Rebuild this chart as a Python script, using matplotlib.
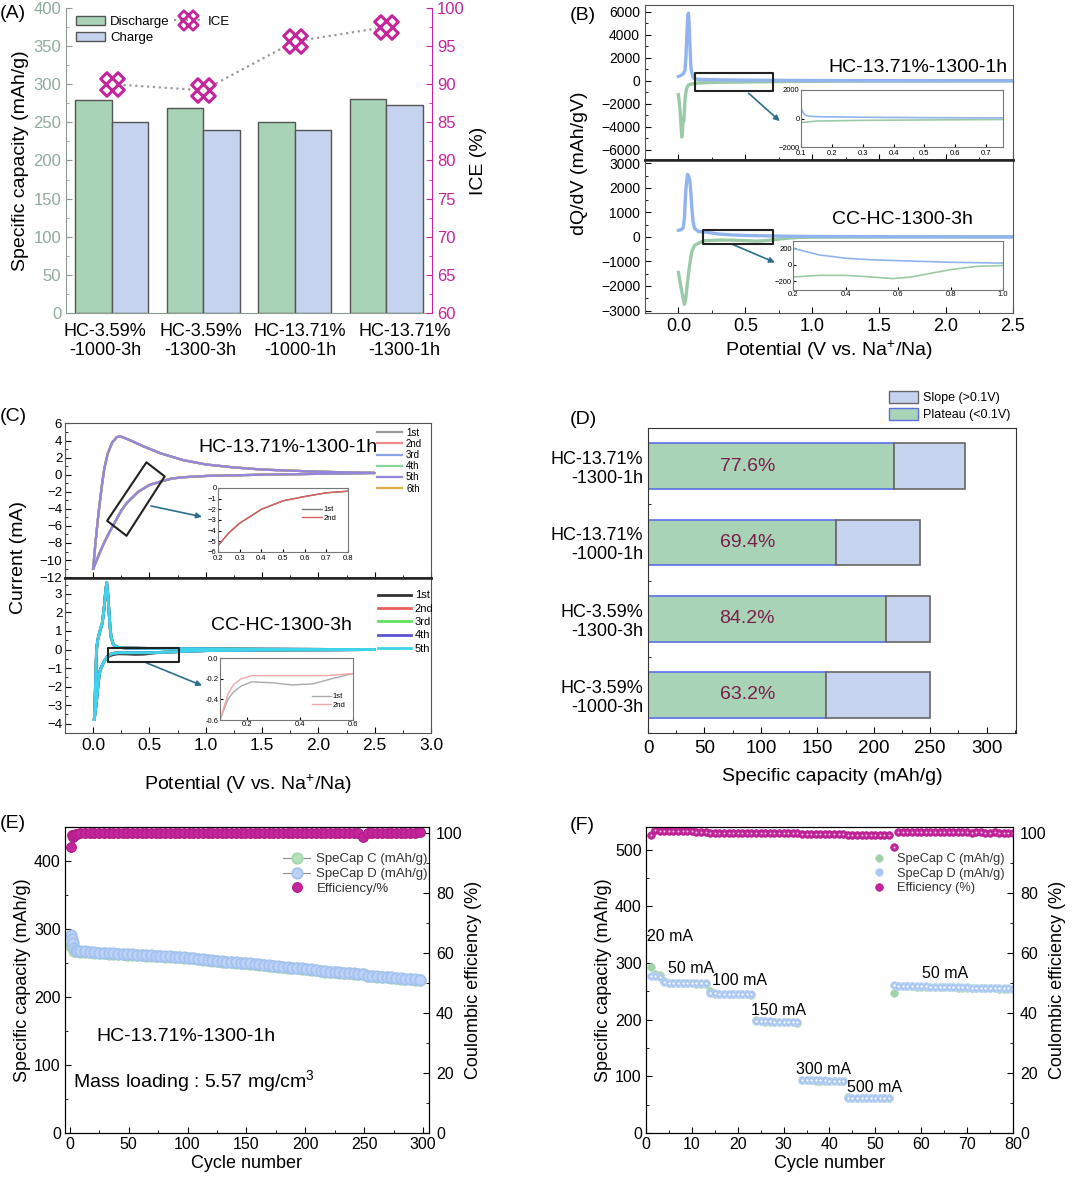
import matplotlib
matplotlib.use("Agg")
import matplotlib.pyplot as plt
import numpy as np
from matplotlib.path import Path
from matplotlib.patches import Patch, Polygon, Rectangle
from matplotlib.lines import Line2D
from matplotlib.ticker import MultipleLocator, FixedLocator

plt.rcParams['font.family'] = ['Liberation Sans', 'DejaVu Sans']
plt.rcParams['mathtext.default'] = 'regular'
plt.rcParams['xtick.direction'] = 'in'
plt.rcParams['ytick.direction'] = 'in'
plt.rcParams['xtick.major.size'] = 4
plt.rcParams['ytick.major.size'] = 4
plt.rcParams['xtick.minor.size'] = 2
plt.rcParams['ytick.minor.size'] = 2

# ---------------- (A) capacities and ICE
samples = ['HC-3.59%\n-1000-3h', 'HC-3.59%\n-1300-3h', 'HC-13.71%\n-1000-1h', 'HC-13.71%\n-1300-1h']
discharge = [279, 269, 251, 280]
charge = [251, 240, 240, 273]
ice = [90.0, 89.2, 95.6, 97.5]

# ---------------- (B) dQ/dV curves
b_hc_pos_v = [0.0, 0.024, 0.037, 0.049, 0.056, 0.063, 0.07, 0.075, 0.08, 0.087, 0.093, 0.1, 0.11, 0.12, 0.14,
              0.17, 0.3, 0.5, 0.75, 1.0, 1.5, 2.0, 2.5]
b_hc_pos = [380, 500, 630, 900, 2000, 4000, 5700, 5900, 5000, 2800, 1200, 700, 300, 180, 140,
            120, 90, 60, 40, 25, 10, 5, 0]
b_hc_neg_v = [0.0, 0.012, 0.02, 0.025, 0.03, 0.035, 0.04, 0.045, 0.05, 0.06, 0.075, 0.1, 0.15, 0.3, 0.5,
              0.75, 1.0, 1.5, 2.5]
b_hc_neg = [-1200, -2500, -4000, -4900, -4500, -3300, -3500, -2600, -1500, -700, -350, -280, -180, -130, -100,
            -70, -40, -15, 0]
b_cc_pos_v = [0.0, 0.024, 0.037, 0.045, 0.053, 0.06, 0.068, 0.075, 0.085, 0.093, 0.1, 0.11, 0.12, 0.15, 0.2,
              0.3, 0.4, 0.5, 0.6, 0.7, 0.8, 1.0, 1.5, 2.5]
b_cc_pos = [270, 300, 400, 800, 1700, 2200, 2550, 2500, 2300, 1800, 1200, 600, 350, 220, 200,
            120, 80, 60, 50, 40, 30, 20, 10, 0]
b_cc_neg_v = [0.0, 0.024, 0.045, 0.055, 0.073, 0.085, 0.1, 0.12, 0.17, 0.2, 0.3, 0.4, 0.5, 0.58, 0.65,
              0.7, 0.8, 0.9, 1.0, 1.5, 2.5]
b_cc_neg = [-1450, -2200, -2750, -2500, -1600, -1100, -600, -350, -200, -150, -130, -130, -150, -170, -150,
            -120, -60, -20, -10, 0, 0]

# ---------------- (C) CV curves
c_hc_an_v = [0.0, 0.02, 0.05, 0.08, 0.1, 0.13, 0.17, 0.21, 0.24, 0.28, 0.35, 0.45, 0.6, 0.8, 1.0, 1.25, 1.5,
             2.0, 2.5]
c_hc_an = [-11.0, -8.0, -4.2, -1.0, 0.8, 2.5, 3.8, 4.4, 4.5, 4.3, 3.9, 3.3, 2.5, 1.7, 1.2, 0.85, 0.6,
           0.35, 0.2]
c_hc_ca_v = [2.5, 2.0, 1.5, 1.0, 0.8, 0.7, 0.6, 0.5, 0.4, 0.3, 0.25, 0.2, 0.15, 0.1, 0.05, 0.02, 0.0]
c_hc_ca = [0.2, 0.1, 0.0, -0.15, -0.3, -0.45, -0.8, -1.2, -2.0, -3.3, -4.2, -5.4, -6.6, -7.9, -9.4, -10.4, -11.0]
cyc_hc = ['1st', '2nd', '3rd', '4th', '5th', '6th']
cyc_hc_col = ['#9a9a9a', '#f08a8a', '#8aa6e6', '#86d49a', '#9486dc', '#e0b048']

c_cc_an_v = [0.01, 0.015, 0.02, 0.025, 0.03, 0.04, 0.06, 0.08, 0.095, 0.11, 0.12, 0.13, 0.14, 0.15, 0.16,
             0.18, 0.22, 0.3, 0.5, 1.0, 1.5, 2.0, 2.5]
c_cc_an = [-3.75, -3.0, -2.0, -1.0, 0.0, 0.5, 1.0, 1.4, 2.1, 3.1, 3.6, 3.0, 2.1, 1.2, 0.65,
           0.25, 0.12, 0.08, 0.06, 0.04, 0.02, 0.01, 0.0]
c_cc_ca1_v = [2.5, 2.0, 1.5, 1.0, 0.6, 0.52, 0.45, 0.37, 0.3, 0.22, 0.18, 0.15, 0.13, 0.1, 0.08, 0.06,
              0.045, 0.033, 0.02, 0.01]
c_cc_ca1 = [0.0, -0.02, -0.03, -0.06, -0.15, -0.2, -0.25, -0.26, -0.24, -0.23, -0.27, -0.33, -0.4, -0.6,
            -0.85, -1.15, -1.8, -2.6, -3.3, -3.75]
c_cc_ca2_v = [2.5, 2.0, 1.5, 1.0, 0.6, 0.5, 0.4, 0.3, 0.22, 0.18, 0.15, 0.13, 0.1, 0.08, 0.06,
              0.045, 0.033, 0.02, 0.01]
c_cc_ca2 = [0.0, -0.02, -0.03, -0.06, -0.15, -0.17, -0.17, -0.17, -0.17, -0.2, -0.26, -0.35, -0.6,
            -0.85, -1.15, -1.8, -2.6, -3.3, -3.75]
cyc_cc = ['1st', '2nd', '3rd', '4th', '5th']
cyc_cc_col = ['#333333', '#e8625c', '#5fe05f', '#5a52d4', '#3fd4ea']

# ---------------- (D) plateau / slope
d_samples = ['HC-3.59%\n-1000-3h', 'HC-3.59%\n-1300-3h', 'HC-13.71%\n-1000-1h', 'HC-13.71%\n-1300-1h']
d_plateau = [158, 210.5, 167, 218]
d_total = [250, 250, 241, 281]
d_pct = ['63.2%', '84.2%', '69.4%', '77.6%']

# ---------------- (E) long cycling
e_cycles = [1, 2, 3, 4, 5, 6] + list(range(9, 298, 4))
e_discharge = [291, 285, 279, 272, 269, 268,
               267.5, 267.0, 266.5, 266.0, 265.5, 265.0, 264.6, 264.2, 263.8, 263.4,
               263.0, 262.7, 262.4, 262.0, 261.7, 261.3, 261.0, 260.6, 260.2, 259.8,
               259.4, 259.0, 258.6, 258.0, 257.3, 256.5, 255.8, 255.0, 254.0, 253.2,
               252.6, 252.0, 251.5, 251.0, 250.5, 250.0, 249.4, 248.7, 248.0, 247.3,
               246.6, 246.0, 245.3, 244.6, 244.0, 243.3, 242.7, 242.0, 241.4, 240.8,
               240.0, 238.5, 237.8, 237.3, 236.8, 236.3, 235.9, 235.5, 235.0, 234.6,
               234.0, 231.5, 231.0, 230.5, 230.0, 229.5, 229.0, 228.4, 227.8, 227.2,
               226.6, 226.0, 225.4]
e_charge = [275, 279, 272, 268, 267, 267.5,
            266.9, 266.4, 265.9, 265.5, 264.9, 264.4, 264.0, 263.6, 263.2, 262.8,
            262.4, 262.1, 261.8, 261.4, 261.1, 260.7, 260.4, 260.0, 259.6, 259.2,
            258.8, 258.4, 258.0, 257.4, 256.7, 255.9, 255.2, 254.4, 253.4, 252.6,
            252.0, 251.4, 250.9, 250.4, 249.9, 249.4, 248.8, 248.1, 247.4, 246.7,
            246.0, 245.4, 244.7, 244.0, 243.4, 242.7, 242.1, 241.4, 240.8, 240.2,
            239.4, 237.9, 237.2, 236.7, 236.2, 235.7, 235.3, 234.9, 234.4, 234.0,
            233.4, 230.9, 230.4, 229.9, 229.4, 228.9, 228.4, 227.8, 227.2, 226.6,
            226.0, 225.4, 224.8]
e_ce = [95.3, 99.4, 98.8, 99.5, 99.7, 99.8,
        99.9, 99.9, 100.0, 99.9, 100.0, 99.9, 99.9, 100.0, 99.9, 99.9,
        100.0, 99.9, 99.9, 100.0, 99.9, 99.9, 100.0, 99.9, 99.9, 100.0,
        99.9, 99.9, 100.0, 99.9, 99.9, 100.0, 99.9, 99.9, 100.0, 99.9,
        100.0, 99.9, 99.9, 100.0, 99.9, 99.9, 100.0, 99.9, 99.9, 100.0,
        99.9, 99.9, 100.0, 99.9, 99.9, 100.0, 99.9, 99.9, 100.0, 99.9,
        100.0, 99.9, 99.9, 100.0, 99.9, 99.9, 100.0, 99.9, 99.9, 100.0,
        98.8, 99.9, 100.0, 99.9, 99.9, 100.0, 99.9, 99.9, 100.0, 99.9,
        99.9, 100.0, 100.2]

# ---------------- (F) rate capability
f_cycles = list(range(1, 81))
f_discharge = [277, 277, 276,
               266, 265.5, 265, 265, 264.8, 264.6, 264.5, 264.3, 264.2, 264.0,
               247, 246.5, 246.2, 246, 245.8, 245.6, 245.5, 245.3, 245.2, 245.0,
               198, 197.6, 197.3, 197, 196.8, 196.6, 196.4, 196.2, 196.0, 195.5,
               93.5, 93.3, 93.1, 93, 92.9, 92.8, 92.7, 92.6, 92.5, 92.4,
               62.5, 62.3, 62.2, 62.1, 62, 61.9, 61.8, 61.7, 61.6, 61.5,
               261, 260, 259.8, 259.5, 259.3, 259.1, 258.9, 258.7, 258.5, 258.3, 258.1, 257.9, 257.7,
               257.5, 257.3, 257.1, 256.9, 256.7, 256.5, 256.3, 256.1, 255.9, 255.7, 255.5, 255.3,
               255.1, 254.9]
f_charge = [293, 281, 279,
            268, 265, 264.5, 264.5, 264.3, 264.1, 264.0, 263.8, 263.7, 263.5,
            250, 246, 245.7, 245.5, 245.3, 245.1, 245.0, 244.8, 244.7, 244.5,
            199, 197.1, 196.8, 196.5, 196.3, 196.1, 195.9, 195.7, 195.5, 195.0,
            94, 93.0, 92.8, 92.7, 92.6, 92.5, 92.4, 92.3, 92.2, 92.1,
            63, 62.0, 61.9, 61.8, 61.7, 61.6, 61.5, 61.4, 61.3, 61.2,
            248, 259.5, 259.3, 259.0, 258.8, 258.6, 258.4, 258.2, 258.0, 257.8, 257.6, 257.4, 257.2,
            257.0, 256.8, 256.6, 256.4, 256.2, 256.0, 255.8, 255.6, 255.4, 255.2, 255.0, 254.8,
            254.6, 254.4]
f_ce = [99.4, 101.0, 100.8,
        100.8, 100.7, 100.7, 100.6, 100.6, 100.6, 100.6, 100.5, 100.5, 100.5,
        100.0, 100.1, 100.0, 100.0, 100.0, 100.0, 100.0, 100.0, 100.0, 100.0,
        100.0, 100.1, 100.0, 100.0, 100.0, 100.0, 100.0, 100.0, 100.0, 100.0,
        99.7, 99.8, 99.7, 99.7, 99.7, 99.7, 99.7, 99.7, 99.7, 99.7,
        99.3, 99.3, 99.3, 99.3, 99.3, 99.3, 99.3, 99.3, 99.3, 99.2,
        95.4, 100.3, 100.3, 100.3, 100.2, 100.3, 100.3, 100.2, 100.2, 100.3, 100.2, 100.2, 100.2,
        100.2, 100.2, 100.2, 100.2, 100.1, 100.2, 100.2, 100.1, 100.1, 100.2, 100.1, 100.1,
        100.1, 100.1]
f_rates = ['20 mA', '50 mA', '100 mA', '150 mA', '300 mA', '500 mA', '50 mA']
f_rate_x = [0.2, 4.7, 14.5, 22.8, 32.7, 43.9, 60.1]
f_rate_y = [346, 290, 269, 217, 112, 81, 281]

GREEN = '#a9d3b7'
LBLUE = '#c6d3ee'
MAG = '#c4259b'
CBLUE = '#91b4ee'
CGREEN = '#9ccaa6'
ARROW = '#2b6f8c'

fig = plt.figure(figsize=(10.8, 11.81), dpi=100)


def inset_style(ax):
    ax.tick_params(labelsize=5.5, pad=1, length=2)
    for s in ax.spines.values():
        s.set_color('#777')


# ======================= (A)
axA = fig.add_axes([0.0611, 0.7350, 0.3389, 0.2583])
xa = np.arange(len(samples))
bD = axA.bar(xa - 0.2, discharge, 0.4, color=GREEN, edgecolor='#555', lw=1, label='Discharge')
bC = axA.bar(xa + 0.2, charge, 0.4, color=LBLUE, edgecolor='#555', lw=1, label='Charge')
axA.set_xlim(-0.5, 3.5)
axA.set_ylim(0, 400)
# labels are spread a little wider than the bar groups, as in the original
axA.set_xticks([-0.07, 0.97, 2.06, 3.2])
axA.set_xticklabels(samples, fontsize=13, linespacing=1.15)
axA.tick_params(axis='x', length=0, pad=7)
axA.yaxis.set_major_locator(MultipleLocator(50))
axA.yaxis.set_minor_locator(MultipleLocator(25))
axA.tick_params(axis='y', which='both', color='#8a9a90', labelcolor='#8fab9c', labelsize=12)
axA.spines['top'].set_visible(False)
axA.spines['right'].set_visible(False)
axA.spines['left'].set_color('#8a9a90')
axA.spines['bottom'].set_color('#8a9a90')
axA.set_ylabel('Specific capacity (mAh/g)', fontsize=14, labelpad=3)

a = 0.36
ice_marker = Path([(-a, -1), (a, -1), (a, 1), (-a, 1), (-a, -1),
                   (-1, -a), (1, -a), (1, a), (-1, a), (-1, -a)],
                  [Path.MOVETO] + [Path.LINETO] * 3 + [Path.CLOSEPOLY] +
                  [Path.MOVETO] + [Path.LINETO] * 3 + [Path.CLOSEPOLY]
                  ).transformed(matplotlib.transforms.Affine2D().rotate_deg(45))
axA2 = axA.twinx()
axA2.set_ylim(60, 100)
axA2.plot(xa, ice, ls=':', color='#9a9a9a', lw=1.6, zorder=2)
axA2.plot(xa, ice, ls='none', marker='o', ms=15, mfc='white', mec='none', zorder=3)
axA2.plot(xa, ice, ls='none', marker=ice_marker, ms=17, mfc='none', mec=MAG, mew=2.2, zorder=4)
axA2.yaxis.set_major_locator(MultipleLocator(5))
axA2.yaxis.set_minor_locator(MultipleLocator(2.5))
axA2.tick_params(axis='y', which='both', color=MAG, labelcolor=MAG, labelsize=12)
for s in ['top', 'left', 'bottom']:
    axA2.spines[s].set_visible(False)
axA2.spines['right'].set_color(MAG)
axA2.set_ylabel('ICE (%)', fontsize=14, labelpad=4)
h_ice = Line2D([], [], ls=':', color='#9a9a9a', lw=1.6, marker=ice_marker, ms=14, mfc='none', mec=MAG, mew=2.0)
h_blank = Line2D([], [], alpha=0)
axA2.legend([bD, bC, h_ice, h_blank], ['Discharge', 'Charge', 'ICE', ''], ncol=2, frameon=False,
            loc='upper left', bbox_to_anchor=(0.005, 1.0), fontsize=9.5, handlelength=2.2,
            columnspacing=0.3, handletextpad=0.4, labelspacing=0.3, borderaxespad=0.2)
fig.text(0.0, 1 - 14 / 1181, '(A)', fontsize=14, va='center')

# ======================= (B)
axBt = fig.add_axes([0.5972, 0.8645, 0.3407, 0.1312])
axBb = fig.add_axes([0.5972, 0.7350, 0.3407, 0.1296])
for ax in (axBt, axBb):
    ax.set_xlim(-0.25, 2.5)
    ax.xaxis.set_major_locator(MultipleLocator(0.5))
    ax.xaxis.set_minor_locator(MultipleLocator(0.25))
    ax.tick_params(axis='y', labelsize=10)
    ax.tick_params(axis='x', labelsize=13)
    for s in ax.spines.values():
        s.set_color('#555')
axBt.plot(b_hc_neg_v, b_hc_neg, color=CGREEN, lw=2.4)
axBt.plot(b_hc_pos_v, b_hc_pos, color=CBLUE, lw=2.4)
axBt.set_ylim(-6900, 6600)
axBt.yaxis.set_major_locator(MultipleLocator(2000))
axBt.yaxis.set_minor_locator(MultipleLocator(1000))
axBt.tick_params(axis='x', labelbottom=False)
axBt.spines['bottom'].set_linewidth(1.8)
axBt.spines['bottom'].set_color('#222')
axBt.text(0.986, 0.6, 'HC-13.71%-1300-1h', transform=axBt.transAxes, ha='right', va='center', fontsize=14)
axBt.add_patch(Rectangle((0.125, -925), 0.585, 1636, fill=False, ec='#222', lw=1.5, joinstyle='round', zorder=5))
axBt.annotate('', xy=(0.773, -3670), xytext=(0.51, -925),
              arrowprops=dict(arrowstyle='-|>', color=ARROW, lw=1.2, mutation_scale=8))

axBb.plot(b_cc_neg_v, b_cc_neg, color=CGREEN, lw=2.4)
axBb.plot(b_cc_pos_v, b_cc_pos, color=CBLUE, lw=2.4)
axBb.set_ylim(-3100, 3140)
axBb.yaxis.set_major_locator(MultipleLocator(1000))
axBb.yaxis.set_minor_locator(MultipleLocator(500))
axBb.spines['top'].set_linewidth(1.8)
axBb.spines['top'].set_color('#222')
axBb.text(0.891, 0.608, 'CC-HC-1300-3h', transform=axBb.transAxes, ha='right', va='center', fontsize=14)
axBb.add_patch(Rectangle((0.18, -271), 0.53, 571, fill=False, ec='#222', lw=1.5, joinstyle='round', zorder=5))
axBb.annotate('', xy=(0.74, -1085), xytext=(0.39, -271),
              arrowprops=dict(arrowstyle='-|>', color=ARROW, lw=1.2, mutation_scale=8))
axBb.set_xlabel('Potential (V vs. Na$^{+}$/Na)', fontsize=14, labelpad=3)
fig.text(0.537, 1 - 163 / 1181, 'dQ/dV (mAh/gV)', rotation=90, fontsize=14, ha='center', va='center')
fig.text(570 / 1080, 1 - 15 / 1181, '(B)', fontsize=14, va='center')

axBi1 = fig.add_axes([0.7417, 0.8755, 0.187, 0.0483])
axBi1.plot(b_hc_neg_v, b_hc_neg, color=CGREEN, lw=1.2)
axBi1.plot(b_hc_pos_v, b_hc_pos, color=CBLUE, lw=1.2)
axBi1.set_xlim(0.1, 0.755)
axBi1.set_ylim(-2000, 2000)
axBi1.set_xticks([0.1, 0.2, 0.3, 0.4, 0.5, 0.6, 0.7])
axBi1.set_yticks([-2000, 0, 2000])
inset_style(axBi1)
axBi1.tick_params(axis='x', pad=2)

axBi2 = fig.add_axes([0.7343, 0.7544, 0.1944, 0.0415])
axBi2.plot(b_cc_neg_v, b_cc_neg, color=CGREEN, lw=1.2)
axBi2.plot(b_cc_pos_v, b_cc_pos, color=CBLUE, lw=1.2)
axBi2.set_xlim(0.2, 1.0)
axBi2.set_ylim(-310, 290)
axBi2.set_xticks([0.2, 0.4, 0.6, 0.8, 1.0])
axBi2.set_yticks([-200, 0, 200])
inset_style(axBi2)

# ======================= (C)
axCt = fig.add_axes([0.0602, 0.5106, 0.3389, 0.1312])
axCb = fig.add_axes([0.0602, 0.3793, 0.3389, 0.1312])
for ax in (axCt, axCb):
    ax.set_xlim(-0.25, 3.0)
    ax.xaxis.set_major_locator(MultipleLocator(0.5))
    ax.xaxis.set_minor_locator(MultipleLocator(0.25))
    ax.tick_params(axis='y', labelsize=9.5, pad=2)
    ax.tick_params(axis='x', labelsize=12.5)
    for s in ax.spines.values():
        s.set_color('#555')

order = [0, 1, 2, 3, 5, 4]
handles = {}
for i in order:
    ln, = axCt.plot(c_hc_an_v + c_hc_ca_v, c_hc_an + c_hc_ca, color=cyc_hc_col[i], lw=1.6)
    handles[i] = ln
axCt.set_ylim(-12.1, 6.05)
axCt.yaxis.set_major_locator(MultipleLocator(2))
axCt.yaxis.set_minor_locator(MultipleLocator(1))
axCt.tick_params(axis='x', labelbottom=False)
axCt.spines['bottom'].set_linewidth(1.8)
axCt.spines['bottom'].set_color('#222')
axCt.text(0.855, 0.839, 'HC-13.71%-1300-1h', transform=axCt.transAxes, ha='right', va='center', fontsize=14)
axCt.legend([handles[i] for i in range(6)], cyc_hc, loc='upper left', bbox_to_anchor=(0.852, 0.97),
            frameon=False, fontsize=7, handlelength=2.6, handletextpad=0.4, labelspacing=0.12,
            borderpad=0, borderaxespad=0)
axCt.add_patch(Polygon([(0.124, -5.4), (0.296, -7.16), (0.635, -0.2), (0.473, 1.45)], closed=True,
                       fill=False, ec='#222', lw=1.5, joinstyle='round', zorder=5))
axCt.annotate('', xy=(0.99, -5.0), xytext=(0.49, -3.6),
              arrowprops=dict(arrowstyle='-|>', color=ARROW, lw=1.2, mutation_scale=8))

cc_ca_v = [c_cc_ca1_v, c_cc_ca2_v, c_cc_ca2_v, c_cc_ca2_v, c_cc_ca2_v]
cc_ca = [c_cc_ca1, c_cc_ca2, c_cc_ca2, c_cc_ca2, c_cc_ca2]
hb = []
for i in range(5):
    ln, = axCb.plot(c_cc_an_v + cc_ca_v[i], c_cc_an + cc_ca[i], color=cyc_cc_col[i], lw=2.0)
    hb.append(ln)
axCb.set_ylim(-4.5, 3.85)
axCb.yaxis.set_major_locator(MultipleLocator(1))
axCb.yaxis.set_minor_locator(MultipleLocator(0.5))
axCb.spines['top'].set_linewidth(1.8)
axCb.spines['top'].set_color('#222')
axCb.text(0.784, 0.697, 'CC-HC-1300-3h', transform=axCb.transAxes, ha='right', va='center', fontsize=14)
axCb.legend(hb, cyc_cc, loc='upper left', bbox_to_anchor=(0.855, 0.92), frameon=False, fontsize=8,
            handlelength=3.0, handletextpad=0.3, labelspacing=0.3, borderpad=0, borderaxespad=0)
axCb.add_patch(Rectangle((0.13, -0.66), 0.635, 0.76, fill=False, ec='#222', lw=1.5, joinstyle='round', zorder=5))
axCb.annotate('', xy=(0.99, -2.0), xytext=(0.45, -0.66),
              arrowprops=dict(arrowstyle='-|>', color=ARROW, lw=1.2, mutation_scale=8))
axCb.set_xlabel('Potential (V vs. Na$^{+}$/Na)', fontsize=14, labelpad=14)
fig.text(0.017, 1 - 557 / 1181, 'Current (mA)', rotation=90, fontsize=14, ha='center', va='center')
fig.text(0.0, 1 - 417 / 1181, '(C)', fontsize=14, va='center')

axCi1 = fig.add_axes([0.2019, 0.5326, 0.1204, 0.0542])
axCi1.plot(c_hc_ca_v, c_hc_ca, color='#777', lw=1.0, label='1st')
axCi1.plot(c_hc_ca_v, c_hc_ca, color='#d9605a', lw=1.0, label='2nd')
axCi1.set_xlim(0.2, 0.8)
axCi1.set_ylim(-6, 0)
axCi1.set_xticks([0.2, 0.3, 0.4, 0.5, 0.6, 0.7, 0.8])
axCi1.set_yticks([0, -1, -2, -3, -4, -5, -6])
inset_style(axCi1)
axCi1.tick_params(axis='x', pad=2)
axCi1.legend(loc='upper left', bbox_to_anchor=(0.62, 0.78), frameon=False, fontsize=5.5, handlelength=2.5,
             handletextpad=0.3, labelspacing=0.2, borderpad=0)

axCi2 = fig.add_axes([0.2037, 0.3903, 0.1231, 0.0525])
axCi2.plot(c_cc_ca1_v, c_cc_ca1, color='#aaa', lw=1.0, label='1st')
axCi2.plot(c_cc_ca2_v, c_cc_ca2, color='#f2a6a6', lw=1.0, label='2nd')
axCi2.set_xlim(0.1, 0.6)
axCi2.set_ylim(-0.6, 0.0)
axCi2.set_xticks([0.2, 0.4, 0.6])
axCi2.set_yticks([0.0, -0.2, -0.4, -0.6])
axCi2.set_yticklabels(['0.0', '-0.2', '-0.4', '-0.6'])
inset_style(axCi2)
axCi2.legend(loc='upper left', bbox_to_anchor=(0.66, 0.5), frameon=False, fontsize=5.5, handlelength=2.5,
             handletextpad=0.3, labelspacing=0.2, borderpad=0)

# ======================= (D)
axD = fig.add_axes([0.6, 0.3793, 0.3407, 0.2583])
yd = np.arange(len(d_samples))
slope = [t - p for t, p in zip(d_total, d_plateau)]
axD.barh(yd, d_plateau, 0.6, color=GREEN, edgecolor='#5b6fe6', lw=1.2, zorder=2)
axD.barh(yd, slope, 0.6, left=d_plateau, color=LBLUE, edgecolor='#666', lw=1.2, zorder=2)
for y, t in zip(yd, d_pct):
    axD.text(88, y, t, ha='center', va='center', fontsize=14, color='#7a1e4b', zorder=3)
axD.set_xlim(0, 326)
axD.set_ylim(-0.5, 3.5)
axD.set_yticks(yd)
axD.set_yticklabels(d_samples, fontsize=13, linespacing=1.15)
axD.yaxis.set_minor_locator(FixedLocator([0.5, 1.5, 2.5]))
axD.xaxis.set_major_locator(MultipleLocator(50))
axD.xaxis.set_minor_locator(MultipleLocator(25))
axD.tick_params(axis='x', labelsize=13.5, pad=5)
for s in axD.spines.values():
    s.set_color('#333')
axD.set_xlabel('Specific capacity (mAh/g)', fontsize=14, labelpad=8)
fig.legend([Patch(facecolor=LBLUE, edgecolor='#666'), Patch(facecolor=GREEN, edgecolor='#5b6fe6')],
           ['Slope (>0.1V)', 'Plateau (<0.1V)'], loc='upper left', bbox_to_anchor=(0.823, 0.669),
           frameon=False, fontsize=9, handlelength=2.3, handleheight=1.1, handletextpad=0.4,
           labelspacing=0.3, borderpad=0, borderaxespad=0)
fig.text(570 / 1080, 1 - 419 / 1181, '(D)', fontsize=14, va='center')

# ======================= (E)
axE = fig.add_axes([0.0602, 0.0406, 0.337, 0.2591])
axE2 = axE.twinx()
lC, = axE.plot(e_cycles, e_charge, color='#8c8c8c', lw=0.8, marker='o', ms=7.5, mfc='#b4e0bc', mec='#a2d6ab',
               mew=1.3, label='SpeCap C (mAh/g)')
lD, = axE.plot(e_cycles, e_discharge, color='#8c8c8c', lw=0.8, marker='o', ms=7.5, mfc='#bcd2f6', mec='#a4c2f0',
               mew=1.3, label='SpeCap D (mAh/g)')
lE, = axE2.plot(e_cycles, e_ce, ls='none', marker='o', ms=7, mfc=MAG, mec='#b01c88', mew=0.8,
                label='Efficiency/%')
axE.set_xlim(-4, 305)
axE.set_ylim(0, 450)
axE2.set_ylim(0, 102)
axE.xaxis.set_major_locator(MultipleLocator(50))
axE.xaxis.set_minor_locator(MultipleLocator(25))
axE.yaxis.set_major_locator(MultipleLocator(100))
axE.yaxis.set_minor_locator(MultipleLocator(50))
axE2.yaxis.set_major_locator(MultipleLocator(20))
axE2.yaxis.set_minor_locator(MultipleLocator(10))
axE.tick_params(labelsize=11.5, pad=3)
axE2.tick_params(labelsize=11.5, pad=5)
axE.set_xlabel('Cycle number', fontsize=13, labelpad=2)
axE.set_ylabel('Specific capacity (mAh/g)', fontsize=13, labelpad=2)
axE2.set_ylabel('Coulombic efficiency (%)', fontsize=13, labelpad=2)
axE2.legend([lC, lD, lE], [lC.get_label(), lD.get_label(), lE.get_label()], loc='upper left',
            bbox_to_anchor=(0.6, 0.915), frameon=False, fontsize=9.5, handlelength=2.0,
            handletextpad=0.5, labelspacing=0.2, borderpad=0, borderaxespad=0, labelcolor='#333')
axE.text(0.085, 0.315, 'HC-13.71%-1300-1h', transform=axE.transAxes, fontsize=14, va='center')
axE.text(0.022, 0.17, 'Mass loading : 5.57 mg/cm$^{3}$', transform=axE.transAxes, fontsize=14, va='center')
fig.text(0.0, 1 - 823 / 1181, '(E)', fontsize=14, va='center')

# ======================= (F)
axF = fig.add_axes([0.5981, 0.0406, 0.3398, 0.2591])
axF2 = axF.twinx()
fC, = axF.plot(f_cycles, f_charge, ls='none', marker='o', ms=5.5, mfc='#9fd0a8', mec='#b5dcbc', mew=0.6,
               label='SpeCap C (mAh/g)')
fD, = axF.plot(f_cycles, f_discharge, ls='none', marker='o', ms=5.5, mfc='#a9c6f2', mec='#c0d6f6', mew=0.6,
               label='SpeCap D (mAh/g)')
axF.plot(f_cycles, f_discharge, ls='none', marker='o', ms=1.6, mfc='white', mec='none')
fE, = axF2.plot(f_cycles, f_ce, ls='none', marker='o', ms=5.5, mfc=MAG, mec='#b01c88', mew=0.5,
                label='Efficiency (%)')
axF2.plot(f_cycles, f_ce, ls='none', marker='o', ms=1.4, mfc='#f4d0e8', mec='none')
for t, x, y in zip(f_rates, f_rate_x, f_rate_y):
    axF.text(x, y, t, fontsize=11.5, va='center', ha='left')
axF.set_xlim(0, 80)
axF.set_ylim(0, 540)
axF2.set_ylim(0, 102)
axF.xaxis.set_major_locator(MultipleLocator(10))
axF.xaxis.set_minor_locator(MultipleLocator(5))
axF.yaxis.set_major_locator(MultipleLocator(100))
axF.yaxis.set_minor_locator(MultipleLocator(50))
axF2.yaxis.set_major_locator(MultipleLocator(20))
axF2.yaxis.set_minor_locator(MultipleLocator(10))
axF.tick_params(labelsize=11.5, pad=3)
axF2.tick_params(labelsize=11.5, pad=5)
axF.set_xlabel('Cycle number', fontsize=13, labelpad=2)
axF.set_ylabel('Specific capacity (mAh/g)', fontsize=13, labelpad=2)
axF2.set_ylabel('Coulombic efficiency (%)', fontsize=13, labelpad=2)
axF2.legend([fC, fD, fE], [fC.get_label(), fD.get_label(), fE.get_label()], loc='upper left',
            bbox_to_anchor=(0.615, 0.915), frameon=False, fontsize=9.2, handlelength=1.2,
            handletextpad=0.8, labelspacing=0.2, borderpad=0, borderaxespad=0, labelcolor='#333')
fig.text(570 / 1080, 1 - 825 / 1181, '(F)', fontsize=14, va='center')

fig.savefig('out.png', dpi=100)
